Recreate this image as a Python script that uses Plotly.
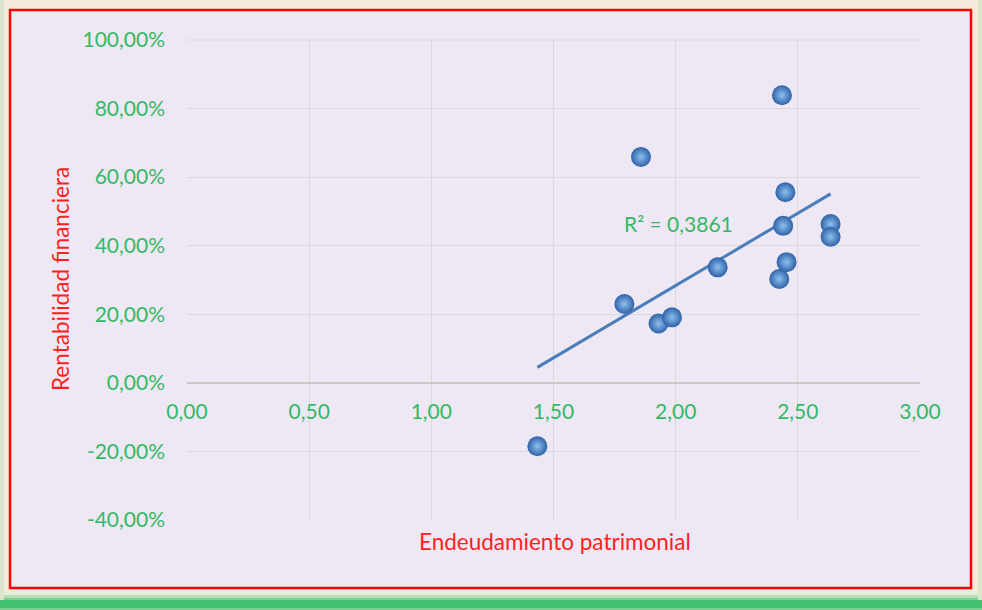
import numpy as np
import plotly.graph_objects as go

# Data
endeudamiento = [1.434, 1.790, 1.858, 1.930, 1.985, 2.172, 2.424, 2.435, 2.440, 2.449, 2.454, 2.634, 2.634]
rentabilidad = [-0.185, 0.230, 0.659, 0.173, 0.191, 0.337, 0.303, 0.839, 0.458, 0.556, 0.352, 0.463, 0.426]
r2_label = "R² = 0,3861"
x_title = "Endeudamiento patrimonial"
y_title = "Rentabilidad financiera"
x_ticks = [0, 0.5, 1.0, 1.5, 2.0, 2.5, 3.0]
y_ticks = [-0.4, -0.2, 0, 0.2, 0.4, 0.6, 0.8, 1.0]


def fmt_pct(v):
    return f"{v * 100:.2f}%".replace(".", ",")


def fmt_num(v):
    return f"{v:.2f}".replace(".", ",")


y_ticktext = [fmt_pct(v) for v in y_ticks]
x_ticktext = [fmt_num(v) for v in x_ticks]

# Linear trendline (least squares) over the data range
xs = np.array(endeudamiento)
ys = np.array(rentabilidad)
m, b = np.polyfit(xs, ys, 1)
tx = np.array([xs.min(), xs.max()])
ty = m * tx + b

GREEN = "#35B866"
RED = "#FF1F1F"
LAV = "#EEE8F4"
FONT = "Lato, Carlito, 'Open Sans', sans-serif"
FS = 21
FS_TITLE = 22.5

W, H = 982, 610
L, R, T, B = 187, 62, 40, 90
pw, ph = W - L - R, H - T - B


def px_x(p):
    return (p - L) / pw


def px_y(p):
    return (H - B - p) / ph


fig = go.Figure()

fig.add_trace(go.Scatter(
    x=tx, y=ty, mode="lines",
    line=dict(color="#4A7EBB", width=3),
    hoverinfo="skip", showlegend=False,
))

fig.add_trace(go.Scatter(
    x=endeudamiento, y=rentabilidad, mode="markers",
    marker=dict(
        size=20,
        color="#2F62A8",
        gradient=dict(type="radial", color="#8EC0F0"),
        line=dict(width=0),
    ),
    showlegend=False,
))

fig.add_annotation(
    x=2.01, y=0.466, xref="x", yref="y", text=r2_label, showarrow=False,
    font=dict(family=FONT, size=FS, color=GREEN),
)

shapes = []
# Outer glow (green at bottom / sides)
glow = [
    (-10, 591, 992, 620, "#E3EFD6"),
    (-10, 595, 992, 620, "#B5DFB8"),
    (-10, 598, 992, 620, "#7ACF92"),
    (-10, 600, 992, 608, "#43C070"),
]
for x0, y0, x1, y1, c in glow:
    shapes.append(dict(type="rect", xref="paper", yref="paper",
                       x0=px_x(x0), x1=px_x(x1), y0=px_y(y1), y1=px_y(y0),
                       fillcolor=c, line=dict(width=0), layer="below"))
# side faint green tint
shapes.append(dict(type="rect", xref="paper", yref="paper",
                   x0=px_x(-5), x1=px_x(4), y0=px_y(600), y1=px_y(0),
                   fillcolor="#DDE6CC", line=dict(width=0), layer="below"))
shapes.append(dict(type="rect", xref="paper", yref="paper",
                   x0=px_x(978), x1=px_x(990), y0=px_y(600), y1=px_y(0),
                   fillcolor="#DDE6CC", line=dict(width=0), layer="below"))
# Chart area with red border
shapes.append(dict(type="rect", xref="paper", yref="paper",
                   x0=px_x(10), x1=px_x(971), y0=px_y(588), y1=px_y(10),
                   fillcolor=LAV, line=dict(color="#FF0000", width=2.5), layer="below"))
# top gridline edge
shapes.append(dict(type="line", xref="paper", yref="paper", x0=0, x1=1, y0=1, y1=1,
                   line=dict(color="#D9D9D9", width=1), layer="below"))

fig.update_layout(
    width=W, height=H,
    margin=dict(l=L, r=R, t=T, b=B),
    paper_bgcolor="#F6EBDA",
    plot_bgcolor=LAV,
    font=dict(family=FONT, size=FS, color=GREEN),
    shapes=shapes,
    showlegend=False,
)

fig.update_xaxes(
    range=[0, 3], tickvals=x_ticks, ticktext=x_ticktext,
    showgrid=True, gridcolor="#D9D9D9", gridwidth=1,
    zeroline=False, showline=True, linecolor="#C8C8C8", linewidth=1.5,
    ticks="", anchor="free", position=0.4 / 1.4,
    tickfont=dict(family=FONT, size=FS, color=GREEN),
    ticklabelstandoff=10,
    fixedrange=True,
)
fig.update_yaxes(
    range=[-0.4, 1.0], tickvals=y_ticks, ticktext=y_ticktext,
    showgrid=True, gridcolor="#D9D9D9", gridwidth=1,
    zeroline=False, showline=False, ticks="",
    tickfont=dict(family=FONT, size=FS, color=GREEN),
    ticklabelstandoff=21,
    fixedrange=True,
)

# Axis titles
fig.add_annotation(
    xref="paper", yref="paper", x=0.5 * (px_x(418) + px_x(691)), y=px_y(541),
    xanchor="center", yanchor="middle",
    text=x_title, showarrow=False, font=dict(family=FONT, size=FS_TITLE, color=RED),
)
fig.add_annotation(
    xref="paper", yref="paper", x=px_x(60), y=px_y(279),
    xanchor="center", yanchor="middle",
    text=y_title, textangle=-90, showarrow=False,
    font=dict(family=FONT, size=FS_TITLE, color=RED),
)

fig.write_html("out.html", config={"displayModeBar": False})

# remove default browser body margin so the figure sits at the page origin
with open("out.html", "r", encoding="utf-8") as f:
    html = f.read()
html = html.replace("<head>", "<head><style>html,body{margin:0;padding:0;overflow:hidden;}</style>", 1)
with open("out.html", "w", encoding="utf-8") as f:
    f.write(html)
